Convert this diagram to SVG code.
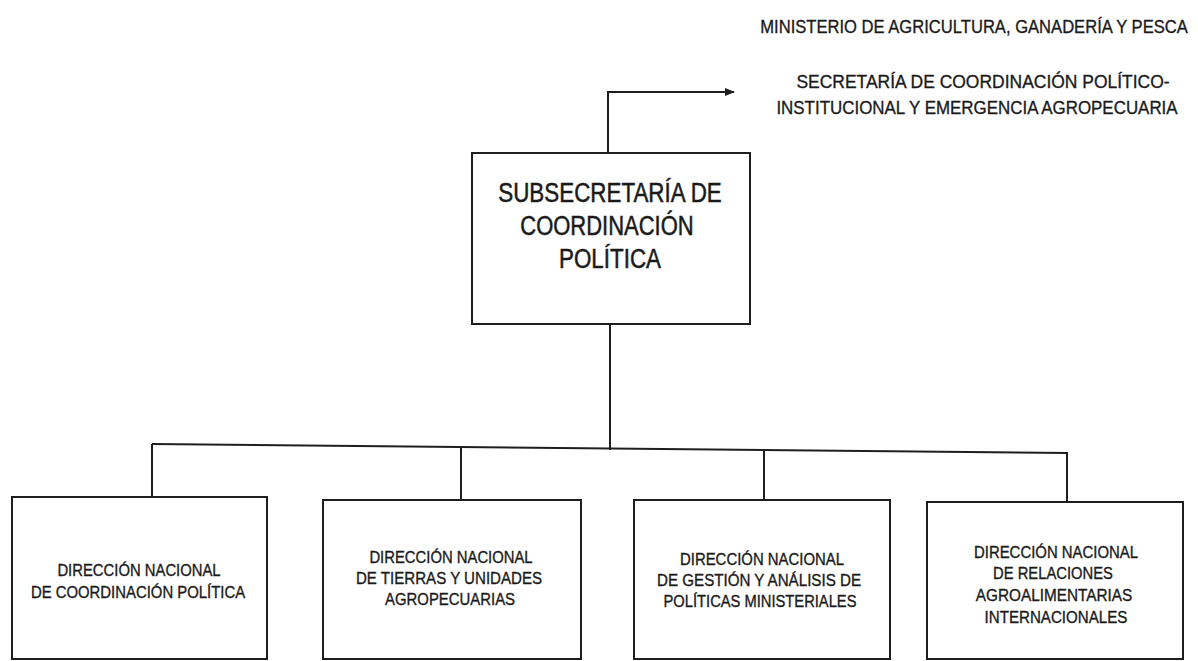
<svg xmlns="http://www.w3.org/2000/svg" width="1198" height="661" viewBox="0 0 1198 661">
<style>
.box{fill:#fff;stroke:#1e1e1e;stroke-width:2}
.ln{fill:none;stroke:#1e1e1e;stroke-width:2}
text{font-family:"Liberation Sans",Arial,sans-serif;fill:#1a1a1a;stroke:#1a1a1a;stroke-width:0.35;text-anchor:middle}
.h{font-size:19px}
.t{font-size:27px;stroke-width:0.5}
.s{font-size:17px}
</style>
<defs>
<marker id="arr" markerWidth="10" markerHeight="8" refX="9" refY="4" orient="auto" markerUnits="userSpaceOnUse">
<path d="M0,0 L10,4 L0,8 Z" fill="#1e1e1e"/>
</marker>
</defs>
<rect width="1198" height="661" fill="#fff"/>
<g id="header">
<text class="h" transform="translate(974,33) scale(0.85,1)" textLength="503" lengthAdjust="spacingAndGlyphs">MINISTERIO DE AGRICULTURA, GANADERÍA Y PESCA</text>
<text class="h" transform="translate(983,88) scale(0.85,1)" textLength="439" lengthAdjust="spacingAndGlyphs">SECRETARÍA DE COORDINACIÓN POLÍTICO-</text>
<text class="h" transform="translate(977,114) scale(0.85,1)" textLength="472" lengthAdjust="spacingAndGlyphs">INSTITUCIONAL Y EMERGENCIA AGROPECUARIA</text>
</g>
<g id="connectors">
<polyline class="ln" points="608,153 608,92 734,92" marker-end="url(#arr)"/>
<line class="ln" x1="610" y1="324" x2="610" y2="450"/>
<line class="ln" x1="152" y1="444" x2="1068" y2="453"/>
<line class="ln" x1="152" y1="444" x2="152" y2="497"/>
<line class="ln" x1="461" y1="447" x2="461" y2="500"/>
<line class="ln" x1="764" y1="450" x2="764" y2="500"/>
<line class="ln" x1="1067" y1="453" x2="1067" y2="502"/>
</g>
<g id="subsecretaria">
<rect class="box" x="472" y="153" width="278" height="171"/>
<text class="t" transform="translate(610,202) scale(0.85,1)" textLength="263" lengthAdjust="spacingAndGlyphs">SUBSECRETARÍA DE</text>
<text class="t" transform="translate(607,235) scale(0.85,1)" textLength="204" lengthAdjust="spacingAndGlyphs">COORDINACIÓN</text>
<text class="t" transform="translate(610,268) scale(0.85,1)" textLength="120" lengthAdjust="spacingAndGlyphs">POLÍTICA</text>
</g>
<g id="dn-coordinacion">
<rect class="box" x="12" y="497" width="255" height="162"/>
<text class="s" transform="translate(139,576) scale(0.85,1)" textLength="192" lengthAdjust="spacingAndGlyphs">DIRECCIÓN NACIONAL</text>
<text class="s" transform="translate(138,598) scale(0.85,1)" textLength="252" lengthAdjust="spacingAndGlyphs">DE COORDINACIÓN POLÍTICA</text>
</g>
<g id="dn-tierras">
<rect class="box" x="323" y="500" width="258" height="159"/>
<text class="s" transform="translate(451,563) scale(0.85,1)" textLength="192" lengthAdjust="spacingAndGlyphs">DIRECCIÓN NACIONAL</text>
<text class="s" transform="translate(449,584) scale(0.85,1)" textLength="219" lengthAdjust="spacingAndGlyphs">DE TIERRAS Y UNIDADES</text>
<text class="s" transform="translate(450,605) scale(0.85,1)" textLength="153" lengthAdjust="spacingAndGlyphs">AGROPECUARIAS</text>
</g>
<g id="dn-gestion">
<rect class="box" x="634" y="500" width="256" height="159"/>
<text class="s" transform="translate(762,565) scale(0.85,1)" textLength="193" lengthAdjust="spacingAndGlyphs">DIRECCIÓN NACIONAL</text>
<text class="s" transform="translate(759,586) scale(0.85,1)" textLength="240" lengthAdjust="spacingAndGlyphs">DE GESTIÓN Y ANÁLISIS DE</text>
<text class="s" transform="translate(760,607) scale(0.85,1)" textLength="227" lengthAdjust="spacingAndGlyphs">POLÍTICAS MINISTERIALES</text>
</g>
<g id="dn-relaciones">
<rect class="box" x="927" y="502" width="256" height="157"/>
<text class="s" transform="translate(1056,558) scale(0.85,1)" textLength="193" lengthAdjust="spacingAndGlyphs">DIRECCIÓN NACIONAL</text>
<text class="s" transform="translate(1053,579) scale(0.85,1)" textLength="141" lengthAdjust="spacingAndGlyphs">DE RELACIONES</text>
<text class="s" transform="translate(1054,601) scale(0.85,1)" textLength="184" lengthAdjust="spacingAndGlyphs">AGROALIMENTARIAS</text>
<text class="s" transform="translate(1056,623) scale(0.85,1)" textLength="168" lengthAdjust="spacingAndGlyphs">INTERNACIONALES</text>
</g>
</svg>
